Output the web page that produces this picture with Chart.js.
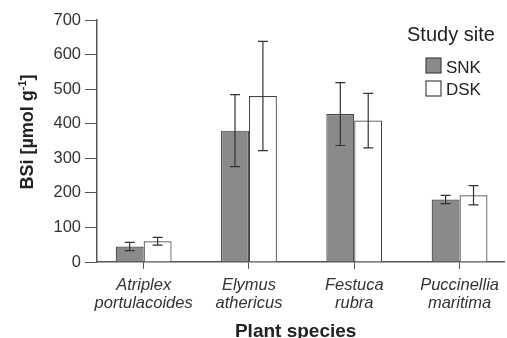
<!DOCTYPE html>
<html>
<head>
<meta charset="utf-8">
<script src="https://cdn.jsdelivr.net/npm/chart.js@4"></script>
<style>
html, body { margin: 0; padding: 0; background: #fff; }
</style>
</head>
<body>
<canvas id="bsiChart" width="507" height="338"></canvas>
<script>
// DATA
const species = [
  ["Atriplex", "portulacoides"],
  ["Elymus", "athericus"],
  ["Festuca", "rubra"],
  ["Puccinellia", "maritima"]
];
const sites = ["SNK", "DSK"];
const snkMean = [45, 380, 428, 181];
const snkErr = [12, 104, 91, 12];
const dskMean = [60, 480, 409, 193];
const dskErr = [11, 158, 79, 28];
const yMin = 0, yMax = 700, yStep = 100;

const FONT = "'Liberation Sans', Arial, sans-serif";

// ERROR BARS
const errorBars = {
  id: "errorBars",
  afterDatasetsDraw(chart) {
    const ctx = chart.ctx;
    const y = chart.scales.y;
    ctx.save();
    ctx.strokeStyle = "#333";
    ctx.lineWidth = 1.2;
    chart.data.datasets.forEach((ds, i) => {
      chart.getDatasetMeta(i).data.forEach((bar, j) => {
        const v = ds.data[j].y, e = ds.errors[j];
        const top = y.getPixelForValue(v + e);
        const bot = y.getPixelForValue(v - e);
        ctx.beginPath();
        ctx.moveTo(bar.x, top); ctx.lineTo(bar.x, bot);
        ctx.moveTo(bar.x - 5, top); ctx.lineTo(bar.x + 5, top);
        ctx.moveTo(bar.x - 5, bot); ctx.lineTo(bar.x + 5, bot);
        ctx.stroke();
      });
    });
    ctx.restore();
  }
};

// TITLES + LEGEND
const annotations = {
  id: "annotations",
  afterDraw(chart) {
    const ctx = chart.ctx;
    ctx.save();
    ctx.fillStyle = "#222";

    // y title with superscript
    ctx.save();
    ctx.translate(26, 132);
    ctx.rotate(-Math.PI / 2);
    const main = "BSi [µmol g", sup = "-1", end = "]";
    ctx.font = "bold 18px " + FONT;
    const w1 = ctx.measureText(main).width, w3 = ctx.measureText(end).width;
    ctx.font = "bold 11px " + FONT;
    const w2 = ctx.measureText(sup).width;
    let x = -(w1 + w2 + w3) / 2;
    ctx.textBaseline = "alphabetic";
    ctx.font = "bold 18px " + FONT;
    ctx.fillText(main, x, 7);
    ctx.font = "bold 11px " + FONT;
    ctx.fillText(sup, x + w1, 0);
    ctx.font = "bold 18px " + FONT;
    ctx.fillText(end, x + w1 + w2, 7);
    ctx.restore();

    // x title
    const area = chart.chartArea;
    ctx.font = "bold 19px " + FONT;
    ctx.textAlign = "center";
    ctx.fillText("Plant species", (area.left + area.right) / 2 - 5, 337);

    // legend
    ctx.textAlign = "left";
    ctx.font = "20px " + FONT;
    ctx.fillText("Study site", 407, 41);
    const fills = ["#8a8a8a", "#fff"];
    const boxY = [58, 81];
    const textY = [73, 95];
    ctx.font = "17px " + FONT;
    sites.forEach((s, i) => {
      ctx.fillStyle = fills[i];
      ctx.fillRect(426, boxY[i], 15, 15);
      ctx.strokeStyle = "#444";
      ctx.lineWidth = 1.2;
      ctx.strokeRect(426, boxY[i], 15, 15);
      ctx.fillStyle = "#222";
      ctx.fillText(s, 446, textY[i]);
    });
    ctx.restore();
  }
};

const toPoints = arr => arr.map((v, i) => ({ x: i, y: v }));

new Chart(document.getElementById("bsiChart").getContext("2d"), {
  type: "bar",
  data: {
    datasets: [
      {
        label: sites[0],
        data: toPoints(snkMean),
        errors: snkErr,
        backgroundColor: "#8a8a8a",
        borderColor: "#444",
        borderWidth: 1.2
      },
      {
        label: sites[1],
        data: toPoints(dskMean),
        errors: dskErr,
        backgroundColor: "#fff",
        borderColor: "#444",
        borderWidth: 1.2
      }
    ]
  },
  options: {
    responsive: false,
    animation: false,
    categoryPercentage: 0.53,
    barPercentage: 1.0,
    layout: { padding: { top: 20, left: 0, right: 0, bottom: 0 } },
    plugins: { legend: { display: false }, tooltip: { enabled: false } },
    scales: {
      x: {
        type: "linear",
        min: -0.443,
        max: 3.425,
        offset: false,
        grid: { offset: false, drawOnChartArea: false, drawTicks: true, tickLength: 7, color: "#555" },
        border: { color: "#555", width: 1.5 },
        ticks: {
          stepSize: 1,
          includeBounds: false,
          autoSkip: false,
          maxRotation: 0,
          padding: 8,
          color: "#333",
          font: { family: FONT, size: 16.5, style: "italic", lineHeight: 1.05 },
          callback: v => Number.isInteger(v) && species[v] ? species[v] : ""
        },
        afterFit: scale => { scale.height = 76; }
      },
      y: {
        min: yMin,
        max: yMax,
        grid: { drawOnChartArea: false, drawTicks: true, tickLength: 12, color: "#555" },
        border: { color: "#555", width: 1.5 },
        ticks: {
          stepSize: yStep,
          padding: 4,
          color: "#333",
          font: { family: FONT, size: 16.5 }
        },
        afterFit: scale => { scale.width = 97; }
      }
    }
  },
  plugins: [errorBars, annotations]
});
</script>
</body>
</html>
